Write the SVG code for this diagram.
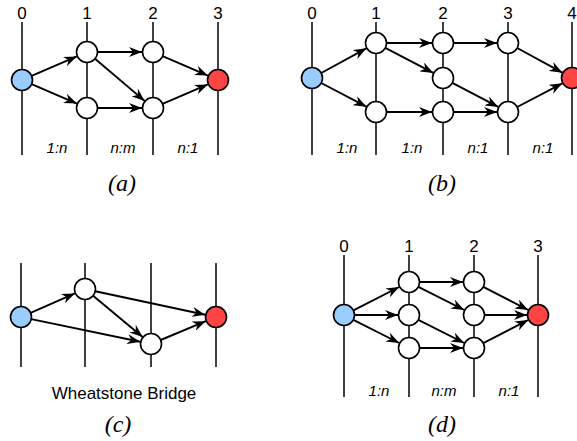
<svg xmlns="http://www.w3.org/2000/svg" width="577" height="441" viewBox="0 0 577 441">
<style>
.bg{fill:#fff}
.axis{stroke:#000;stroke-width:1.5}
.e{stroke:#000;stroke-width:1.9;fill:none;marker-end:url(#ah)}
.n{fill:#fff;stroke:#000;stroke-width:1.6}
.src{fill:#99ccff;stroke:#000;stroke-width:1.6}
.snk{fill:#ff4444;stroke:#000;stroke-width:1.6}
.num{font-family:"Liberation Sans",Arial,sans-serif;font-size:17px;text-anchor:middle;fill:#000}
.lab{font-family:"Liberation Sans",Arial,sans-serif;font-size:15px;font-style:italic;text-anchor:middle;fill:#000}
.cap{font-family:"Liberation Serif","Times New Roman",serif;font-size:24px;font-style:italic;text-anchor:middle;fill:#000}
.txt{font-family:"Liberation Sans",Arial,sans-serif;font-size:17px;text-anchor:middle;fill:#000}
</style>
<defs>
<marker id="ah" markerUnits="userSpaceOnUse" markerWidth="14" markerHeight="10" refX="13" refY="5" orient="auto" viewBox="0 0 14 10">
<path d="M0,0 L13,5 L0,10 L4,5 z" fill="#000"/>
</marker>
</defs>
<rect class="bg" x="0" y="0" width="577" height="441"/>

<g id="axes">
<line class="axis" x1="22" y1="22" x2="22" y2="155"/>
<line class="axis" x1="87" y1="22" x2="87" y2="155"/>
<line class="axis" x1="153" y1="22" x2="153" y2="155"/>
<line class="axis" x1="218" y1="22" x2="218" y2="155"/>
<line class="axis" x1="312" y1="22" x2="312" y2="155"/>
<line class="axis" x1="376" y1="22" x2="376" y2="155"/>
<line class="axis" x1="443" y1="22" x2="443" y2="155"/>
<line class="axis" x1="508" y1="22" x2="508" y2="155"/>
<line class="axis" x1="572" y1="22" x2="572" y2="155"/>
<line class="axis" x1="21" y1="263" x2="21" y2="367"/>
<line class="axis" x1="85" y1="263" x2="85" y2="367"/>
<line class="axis" x1="151" y1="263" x2="151" y2="367"/>
<line class="axis" x1="216" y1="263" x2="216" y2="367"/>
<line class="axis" x1="344" y1="255" x2="344" y2="397"/>
<line class="axis" x1="409" y1="255" x2="409" y2="397"/>
<line class="axis" x1="474" y1="255" x2="474" y2="397"/>
<line class="axis" x1="538" y1="255" x2="538" y2="397"/>
</g>

<g id="connectors">
<!-- a -->
<line class="e" x1="31.6" y1="75.9" x2="76.9" y2="56.4"/>
<line class="e" x1="31.6" y1="84.1" x2="76.9" y2="103.6"/>
<line class="e" x1="97.5" y1="52" x2="142" y2="52"/>
<line class="e" x1="95" y1="58.8" x2="144.6" y2="100.9"/>
<line class="e" x1="97.5" y1="108" x2="142" y2="108"/>
<line class="e" x1="162.6" y1="56.2" x2="207.9" y2="75.6"/>
<line class="e" x1="162.6" y1="103.8" x2="207.9" y2="84.4"/>
<!-- b -->
<line class="e" x1="321.2" y1="73" x2="366.4" y2="48.3"/>
<line class="e" x1="321.2" y1="83" x2="366.4" y2="106.7"/>
<line class="e" x1="386.5" y1="43" x2="432" y2="43"/>
<line class="e" x1="385.3" y1="47.9" x2="433.3" y2="72.9"/>
<line class="e" x1="386.5" y1="112" x2="432" y2="112"/>
<line class="e" x1="453.5" y1="43" x2="497" y2="43"/>
<line class="e" x1="452.3" y1="82.9" x2="498.3" y2="106.9"/>
<line class="e" x1="453.5" y1="112" x2="497" y2="112"/>
<line class="e" x1="517.2" y1="48" x2="562.4" y2="72.7"/>
<line class="e" x1="517.2" y1="107" x2="562.4" y2="83.3"/>
<!-- c -->
<line class="e" x1="30.6" y1="312.9" x2="74.9" y2="293.4"/>
<line class="e" x1="31.3" y1="319.1" x2="140.2" y2="341.8"/>
<line class="e" x1="95.3" y1="291.2" x2="205.2" y2="314.7"/>
<line class="e" x1="93.1" y1="295.7" x2="142.6" y2="337"/>
<line class="e" x1="160.7" y1="340" x2="205.8" y2="321.2"/>
<!-- d -->
<line class="e" x1="353.4" y1="310.3" x2="399.2" y2="287"/>
<line class="e" x1="354.5" y1="315" x2="398" y2="315"/>
<line class="e" x1="353.4" y1="319.8" x2="399.2" y2="343"/>
<line class="e" x1="419.5" y1="282" x2="463" y2="282"/>
<line class="e" x1="418.4" y1="286.8" x2="464.2" y2="310"/>
<line class="e" x1="418.4" y1="319.8" x2="464.2" y2="343"/>
<line class="e" x1="419.5" y1="348" x2="463" y2="348"/>
<line class="e" x1="483.3" y1="286.8" x2="528.2" y2="310"/>
<line class="e" x1="484.5" y1="315" x2="527" y2="315"/>
<line class="e" x1="483.3" y1="343.2" x2="528.2" y2="320"/>
</g>

<g id="a-src"><circle class="src" cx="22" cy="80" r="10.5"/></g>
<g id="a-1t"><circle class="n" cx="87" cy="52" r="10.5"/></g>
<g id="a-1b"><circle class="n" cx="87" cy="108" r="10.5"/></g>
<g id="a-2t"><circle class="n" cx="153" cy="52" r="10.5"/></g>
<g id="a-2b"><circle class="n" cx="153" cy="108" r="10.5"/></g>
<g id="a-snk"><circle class="snk" cx="218" cy="80" r="10.5"/></g>

<g id="b-src"><circle class="src" cx="312" cy="78" r="10.5"/></g>
<g id="b-1t"><circle class="n" cx="376" cy="43" r="10.5"/></g>
<g id="b-1b"><circle class="n" cx="376" cy="112" r="10.5"/></g>
<g id="b-2t"><circle class="n" cx="443" cy="43" r="10.5"/></g>
<g id="b-2m"><circle class="n" cx="443" cy="78" r="10.5"/></g>
<g id="b-2b"><circle class="n" cx="443" cy="112" r="10.5"/></g>
<g id="b-3t"><circle class="n" cx="508" cy="43" r="10.5"/></g>
<g id="b-3b"><circle class="n" cx="508" cy="112" r="10.5"/></g>
<g id="b-snk"><circle class="snk" cx="572" cy="78" r="10.5"/></g>

<g id="c-src"><circle class="src" cx="21" cy="317" r="10.5"/></g>
<g id="c-1"><circle class="n" cx="85" cy="289" r="10.5"/></g>
<g id="c-2"><circle class="n" cx="151" cy="344" r="10.5"/></g>
<g id="c-snk"><circle class="snk" cx="216" cy="317" r="10.5"/></g>

<g id="d-src"><circle class="src" cx="344" cy="315" r="10.5"/></g>
<g id="d-1t"><circle class="n" cx="409" cy="282" r="10.5"/></g>
<g id="d-1m"><circle class="n" cx="409" cy="315" r="10.5"/></g>
<g id="d-1b"><circle class="n" cx="409" cy="348" r="10.5"/></g>
<g id="d-2t"><circle class="n" cx="474" cy="282" r="10.5"/></g>
<g id="d-2m"><circle class="n" cx="474" cy="315" r="10.5"/></g>
<g id="d-2b"><circle class="n" cx="474" cy="348" r="10.5"/></g>
<g id="d-snk"><circle class="snk" cx="538" cy="315" r="10.5"/></g>

<g id="labels">
<text class="num" x="22" y="19">0</text>
<text class="num" x="87" y="19">1</text>
<text class="num" x="153" y="19">2</text>
<text class="num" x="218" y="19">3</text>
<text class="num" x="312" y="19">0</text>
<text class="num" x="376" y="19">1</text>
<text class="num" x="443" y="19">2</text>
<text class="num" x="508" y="19">3</text>
<text class="num" x="572" y="19">4</text>
<text class="num" x="344" y="252">0</text>
<text class="num" x="409" y="252">1</text>
<text class="num" x="474" y="252">2</text>
<text class="num" x="538" y="252">3</text>

<text class="lab" x="57" y="153">1:n</text>
<text class="lab" x="123" y="153">n:m</text>
<text class="lab" x="188" y="153">n:1</text>
<text class="lab" x="347" y="153">1:n</text>
<text class="lab" x="412" y="153">1:n</text>
<text class="lab" x="478" y="153">n:1</text>
<text class="lab" x="543" y="153">n:1</text>
<text class="lab" x="379" y="396">1:n</text>
<text class="lab" x="444" y="396">n:m</text>
<text class="lab" x="509" y="396">n:1</text>

<text class="txt" x="124" y="399">Wheatstone Bridge</text>

<text class="cap" x="122" y="191">(a)</text>
<text class="cap" x="442" y="191">(b)</text>
<text class="cap" x="118" y="432">(c)</text>
<text class="cap" x="442" y="432">(d)</text>
</g>
</svg>
